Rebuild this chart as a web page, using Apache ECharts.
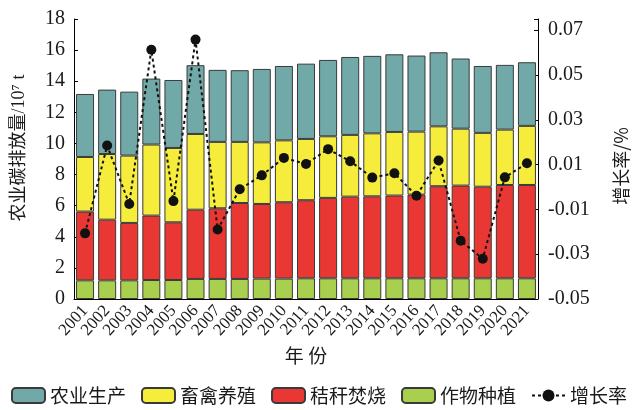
<!DOCTYPE html>
<html>
<head>
<meta charset="utf-8">
<script src="https://cdn.jsdelivr.net/npm/echarts@6/dist/echarts.min.js"></script>
<style>
  html, body { margin: 0; padding: 0; background: #fff; }
  #chart { width: 638px; height: 410px; }
</style>
</head>
<body>
<div id="chart"></div>
<script>
// 年份
const years = ['2001', '2002', '2003', '2004', '2005', '2006', '2007', '2008', '2009', '2010', '2011',
  '2012', '2013', '2014', '2015', '2016', '2017', '2018', '2019', '2020', '2021'];

// 各来源排放量（堆叠，单位 10^7 t）
const cropPlanting = [1.20, 1.20, 1.20, 1.22, 1.22, 1.29, 1.29, 1.29, 1.31, 1.31, 1.33,
  1.33, 1.33, 1.33, 1.33, 1.33, 1.33, 1.33, 1.33, 1.33, 1.33];
const strawBurning = [4.42, 3.90, 3.69, 4.14, 3.71, 4.45, 4.54, 4.88, 4.80, 4.91, 5.02,
  5.17, 5.25, 5.27, 5.32, 5.38, 5.92, 5.96, 5.89, 6.00, 6.00];
const livestock = [3.51, 4.22, 4.33, 4.57, 4.78, 4.87, 4.27, 3.93, 3.96, 3.98, 3.94,
  3.96, 3.97, 4.05, 4.09, 4.05, 3.85, 3.66, 3.46, 3.56, 3.80];
const agriProduction = [4.05, 4.14, 4.11, 4.24, 4.37, 4.42, 4.63, 4.61, 4.72, 4.78, 4.84,
  4.91, 5.01, 4.98, 4.99, 4.89, 4.76, 4.51, 4.30, 4.16, 4.09];

// 增长率
const growthRate = [-0.0207, 0.0185, -0.0076, 0.0613, -0.0063, 0.0658, -0.0190, -0.0010, 0.0052, 0.0130, 0.0103,
  0.0169, 0.0115, 0.0042, 0.0061, -0.0039, 0.0118, -0.0240, -0.0320, 0.0043, 0.0106];

// 刻度标签
const leftTicks = { min: 0, max: 18, interval: 2 };
const rightTicks = { min: -0.05, max: 0.075, interval: 0.02 };

const serif = "'Liberation Serif', 'Noto Sans CJK SC', serif";
const cjk = "'Noto Sans CJK SC', sans-serif";
const ink = '#1a1a1a';
const edge = '#3a3a3a';

const chart = echarts.init(document.getElementById('chart'));

function barSeries(name, data, color) {
  return {
    name: name,
    type: 'bar',
    stack: 'total',
    barWidth: 18,
    itemStyle: { color: color, borderColor: edge, borderWidth: 1 },
    data: data
  };
}

const option = {
  animation: false,
  backgroundColor: '#fff',
  grid: { left: 74, right: 88, top: 19, bottom: 111 },
  legend: {
    data: ['农业生产', '畜禽养殖', '秸秆焚烧', '作物种植', '增长率'],
    left: 6,
    top: 381,
    itemWidth: 33,
    itemHeight: 15,
    itemGap: 15,
    textStyle: { fontFamily: cjk, fontSize: 19, color: ink }
  },
  xAxis: {
    type: 'category',
    data: years,
    name: '年 份',
    nameLocation: 'middle',
    nameGap: 45,
    nameTextStyle: { fontFamily: cjk, fontSize: 19, color: ink },
    axisLine: { lineStyle: { color: '#000', width: 1 } },
    axisTick: { show: false },
    axisLabel: { rotate: 48, margin: 9, fontFamily: serif, fontSize: 17, color: ink, interval: 0 }
  },
  yAxis: [
    {
      type: 'value',
      min: leftTicks.min,
      max: leftTicks.max,
      interval: leftTicks.interval,
      name: '农业碳排放量/10⁷ t',
      nameLocation: 'middle',
      nameRotate: 90,
      nameGap: 46,
      nameTextStyle: { fontFamily: serif, fontSize: 18, color: ink, padding: [0, 0, 0, 22] },
      axisLine: { show: true, lineStyle: { color: '#000', width: 1 } },
      axisTick: { show: true, inside: true, length: 4, lineStyle: { color: '#000' } },
      axisLabel: { margin: 9, fontFamily: serif, fontSize: 20, color: ink },
      splitLine: { show: false }
    },
    {
      type: 'value',
      position: 'right',
      min: rightTicks.min,
      max: rightTicks.max,
      interval: rightTicks.interval,
      name: '增长率/%',
      nameLocation: 'middle',
      nameRotate: 90,
      nameGap: 74,
      nameTextStyle: { fontFamily: cjk, fontSize: 18, color: ink, padding: [0, 14, 0, 0] },
      axisLine: { show: true, lineStyle: { color: '#000', width: 1 } },
      axisTick: { show: true, inside: true, length: 4, lineStyle: { color: '#000' } },
      axisLabel: {
        margin: 10,
        fontFamily: serif,
        fontSize: 20,
        color: ink,
        formatter: v => (v > 0.071 ? '' : v.toFixed(2))
      },
      splitLine: { show: false }
    }
  ],
  series: [
    barSeries('作物种植', cropPlanting, '#a9cf4e'),
    barSeries('秸秆焚烧', strawBurning, '#e93834'),
    barSeries('畜禽养殖', livestock, '#f5ec3c'),
    barSeries('农业生产', agriProduction, '#71a9a8'),
    {
      name: '增长率',
      type: 'line',
      yAxisIndex: 1,
      symbol: 'circle',
      symbolSize: 10,
      itemStyle: { color: '#111' },
      lineStyle: { color: '#111', width: 2, type: [3, 3] },
      z: 5,
      data: growthRate
    }
  ]
};

chart.setOption(option);
</script>
</body>
</html>
